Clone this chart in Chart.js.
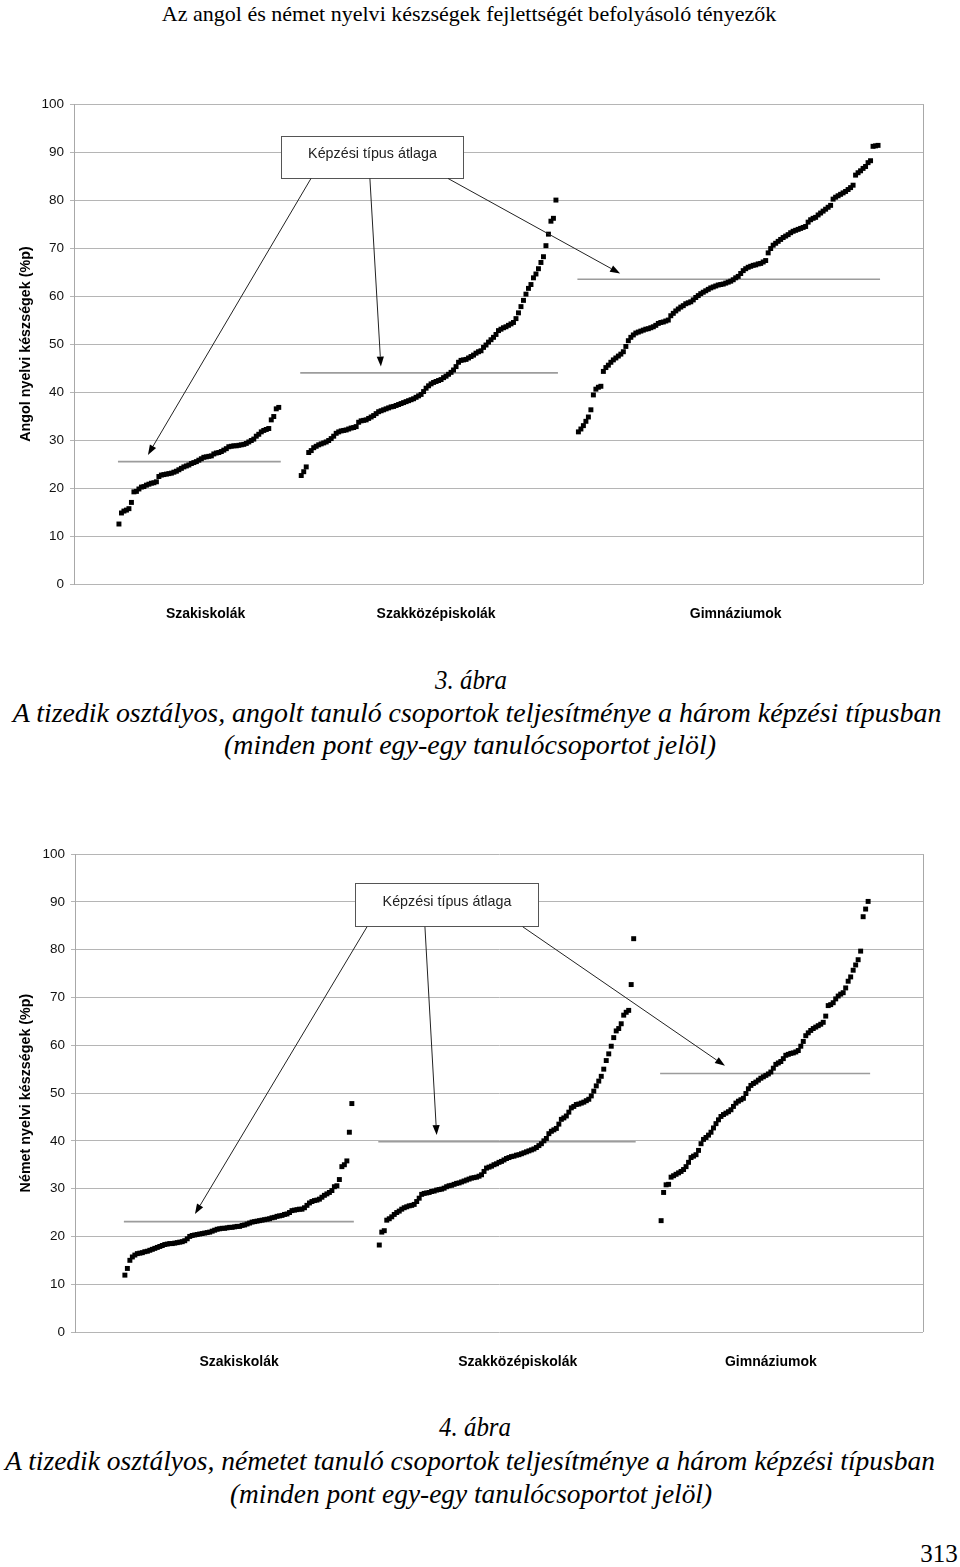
<!DOCTYPE html>
<html lang="hu">
<head>
<meta charset="utf-8">
<title>Angol és német nyelvi készségek</title>
<script src="https://cdn.jsdelivr.net/npm/chart.js@4.4.1/dist/chart.umd.min.js"></script>
<style>
  body { margin: 0; width: 960px; height: 1567px; background: #fff; position: relative; overflow: hidden; }
  .txt { position: absolute; white-space: nowrap; font-family: "Liberation Serif", "DejaVu Serif", serif; color: #000; line-height: 1; transform-origin: center center; }
  .cap { font-style: italic; font-size: 28px; }
  canvas { position: absolute; left: 0; }
</style>
</head>
<body>
<div id="cim" class="txt" style="font-size:22px">Az angol és német nyelvi készségek fejlettségét befolyásoló tényezők</div>

<canvas id="angolChart" width="960" height="560" style="top:90px"></canvas>
<div id="cap1a" class="txt cap">3. ábra</div>
<div id="cap1b" class="txt cap">A tizedik osztályos, angolt tanuló csoportok teljesítménye a három képzési típusban</div>
<div id="cap1c" class="txt cap">(minden pont egy-egy tanulócsoportot jelöl)</div>

<canvas id="nemetChart" width="960" height="560" style="top:840px"></canvas>
<div id="cap2a" class="txt cap">4. ábra</div>
<div id="cap2b" class="txt cap">A tizedik osztályos, németet tanuló csoportok teljesítménye a három képzési típusban</div>
<div id="cap2c" class="txt cap">(minden pont egy-egy tanulócsoportot jelöl)</div>

<div id="oldal" class="txt" style="font-size:25px">313</div>

<script>
// kategóriák és tengelyfeliratok
const kategoriak = ['Szakiskolák', 'Szakközépiskolák', 'Gimnáziumok'];
const yTicks = [0, 10, 20, 30, 40, 50, 60, 70, 80, 90, 100];

// 3. ábra - angol (csoportonként növekvő sorrendben)
const angolSzakiskola = [
  12.5, 14.8, 15.2, 15.4, 15.7, 17.0, 19.2, 19.3, 19.8, 20.2,
  20.3, 20.6, 20.8, 21.0, 21.1, 21.3, 22.4, 22.7, 22.8, 22.9,
  23.0, 23.1, 23.3, 23.5, 23.8, 24.1, 24.4, 24.6, 24.8, 25.1,
  25.3, 25.5, 25.8, 26.1, 26.4, 26.5, 26.6, 26.7, 27.1, 27.3,
  27.4, 27.6, 27.9, 28.2, 28.6, 28.7, 28.8, 28.8, 28.9, 29.0,
  29.1, 29.3, 29.6, 29.9, 30.2, 30.8, 31.2, 31.7, 32.0, 32.2,
  32.4, 34.2, 34.9, 36.5, 36.8
];
const angolSzakkozep = [
  22.6, 23.4, 24.4, 27.4, 27.8, 28.4, 28.7, 29.0, 29.2, 29.4,
  29.6, 29.9, 30.3, 30.8, 31.4, 31.7, 31.9, 32.0, 32.1, 32.3,
  32.5, 32.6, 32.8, 33.7, 34.0, 34.1, 34.2, 34.5, 34.8, 35.1,
  35.5, 35.9, 36.1, 36.3, 36.5, 36.7, 36.9, 37.0, 37.2, 37.4,
  37.6, 37.8, 38.0, 38.2, 38.4, 38.6, 38.9, 39.2, 39.5, 40.1,
  40.8, 41.3, 41.7, 42.0, 42.2, 42.4, 42.6, 43.0, 43.3, 43.7,
  44.1, 44.6, 45.3, 46.2, 46.6, 46.7, 46.8, 47.1, 47.4, 47.7,
  48.1, 48.4, 48.6, 49.3, 49.8, 50.4, 50.9, 51.4, 52.0, 52.8,
  53.1, 53.4, 53.6, 53.9, 54.2, 54.5, 55.3, 56.5, 57.8, 59.1,
  60.4, 61.6, 62.4, 63.8, 64.6, 65.7, 67.0, 68.2, 70.5, 72.9,
  75.6, 76.2, 80.0
];
const angolGimnazium = [
  31.7, 32.3, 33.0, 33.9, 34.8, 36.3, 39.4, 40.6, 41.0, 41.2,
  44.3, 45.1, 45.6, 46.2, 46.7, 47.1, 47.5, 47.9, 48.4, 49.5,
  50.7, 51.4, 51.9, 52.3, 52.5, 52.7, 52.9, 53.1, 53.2, 53.4,
  53.6, 53.9, 54.3, 54.5, 54.6, 54.8, 55.0, 55.9, 56.4, 56.9,
  57.3, 57.7, 58.0, 58.4, 58.6, 58.8, 59.2, 59.7, 60.1, 60.5,
  60.8, 61.1, 61.4, 61.7, 61.9, 62.1, 62.3, 62.4, 62.5, 62.7,
  62.9, 63.1, 63.4, 63.8, 64.1, 64.7, 65.3, 65.7, 66.0, 66.2,
  66.4, 66.5, 66.7, 66.8, 67.1, 67.4, 69.0, 69.9, 70.6, 71.0,
  71.4, 71.8, 72.2, 72.5, 72.8, 73.2, 73.5, 73.7, 73.9, 74.1,
  74.3, 74.5, 75.4, 75.9, 76.2, 76.4, 76.9, 77.3, 77.7, 78.1,
  78.5, 78.9, 80.2, 80.6, 80.9, 81.2, 81.5, 81.8, 82.2, 82.6,
  83.1, 85.2, 85.7, 86.1, 86.6, 87.0, 87.8, 88.2, 91.2, 91.3,
  91.4
];
const angolAtlag = [25.5, 44.0, 63.5];

// 4. ábra - német
const nemetSzakiskola = [
  11.9, 13.3, 15.0, 15.7, 16.1, 16.4, 16.5, 16.6, 16.8, 16.9,
  17.1, 17.3, 17.5, 17.7, 17.9, 18.1, 18.3, 18.4, 18.5, 18.5,
  18.6, 18.7, 18.8, 18.9, 19.1, 19.5, 20.0, 20.2, 20.3, 20.4,
  20.5, 20.6, 20.7, 20.8, 20.9, 21.1, 21.3, 21.5, 21.6, 21.7,
  21.7, 21.8, 21.9, 21.9, 22.0, 22.1, 22.1, 22.3, 22.4, 22.6,
  22.8, 23.0, 23.1, 23.2, 23.3, 23.4, 23.5, 23.6, 23.7, 23.9,
  24.0, 24.2, 24.3, 24.4, 24.6, 24.7, 25.0, 25.4, 25.5, 25.6,
  25.7, 25.7, 26.0, 26.5, 27.0, 27.3, 27.5, 27.6, 27.8, 28.2,
  28.6, 28.9, 29.2, 29.6, 30.4, 30.6, 31.9, 34.6, 35.0, 35.8,
  41.8, 47.8
];
const nemetSzakkozep = [
  18.2, 20.9, 21.2, 23.4, 23.7, 24.1, 24.6, 25.0, 25.3, 25.7,
  26.0, 26.2, 26.4, 26.5, 26.7, 27.3, 28.0, 28.8, 29.0, 29.1,
  29.2, 29.4, 29.5, 29.7, 29.8, 29.9, 30.1, 30.4, 30.6, 30.7,
  30.9, 31.1, 31.2, 31.4, 31.6, 31.8, 32.0, 32.2, 32.3, 32.4,
  32.6, 32.9, 33.6, 34.3, 34.5, 34.7, 35.0, 35.2, 35.5, 35.7,
  36.0, 36.3, 36.5, 36.7, 36.8, 37.0, 37.1, 37.3, 37.5, 37.7,
  37.9, 38.1, 38.3, 38.6, 39.0, 39.4, 40.0, 40.5, 41.5, 42.0,
  42.3, 42.6, 43.5, 44.5, 44.8, 45.2, 46.0, 46.9, 47.2, 47.6,
  47.7, 47.9, 48.1, 48.4, 48.7, 49.4, 50.4, 51.5, 52.5, 53.5,
  55.0, 56.8, 58.2, 59.8, 61.6, 63.0, 63.5, 64.5, 66.3, 66.9,
  67.3, 72.7, 82.3
];
const nemetGimnazium = [
  23.3, 29.2, 30.8, 30.9, 32.4, 32.7, 33.0, 33.3, 33.6, 34.0,
  34.6, 35.5, 36.5, 36.8, 37.1, 38.0, 39.4, 40.3, 40.7, 41.2,
  41.8, 42.7, 43.6, 44.4, 45.1, 45.5, 45.8, 46.1, 46.5, 47.2,
  47.9, 48.3, 48.6, 48.9, 49.9, 50.9, 51.6, 52.0, 52.3, 52.7,
  53.1, 53.4, 53.7, 54.0, 54.4, 55.2, 56.0, 56.3, 56.6, 57.2,
  57.9, 58.1, 58.3, 58.4, 58.6, 58.9, 59.8, 60.8, 62.0, 62.6,
  63.1, 63.5, 63.8, 64.1, 64.4, 64.8, 66.1, 68.3, 68.5, 68.9,
  69.7, 70.3, 70.7, 71.0, 72.0, 73.4, 74.3, 75.7, 76.8, 77.9,
  79.7, 86.9, 88.5, 90.1
];
const nemetAtlag = [23.1, 39.8, 54.1];

// elrendezés: a csoportok kezdő sorszáma és a kategóriafeliratok helye az x tengelyen
const angolKezdet = [18, 91, 202];
const nemetKezdet = [20, 122, 235];
const angolFeliratHely = [52.7, 145, 265];
const nemetFeliratHely = [65.8, 177.5, 279];

// magyarázó doboz és nyilak (adatkoordinátákban)
const angolMagyarazat = {
  box: [82.9, 93.4, 155.8, 84.6],
  arrows: [[94.9, 84.5, 29.6, 26.9], [118.5, 84.5, 122.9, 45.3], [149.8, 84.5, 218.7, 64.7]]
};
const nemetMagyarazat = {
  box: [112.3, 93.9, 185.6, 85.0],
  arrows: [[117.1, 84.8, 48.1, 24.7], [140.3, 84.8, 145.0, 41.2], [179.5, 84.8, 260.6, 55.7]]
};

const SANS = '"Liberation Sans", Arial, sans-serif';

const keretPlugin = {
  id: 'keret',
  beforeDatasetsDraw(chart) {
    const { ctx, chartArea: a } = chart;
    const xr = Math.round(a.right) + 0.5;
    ctx.save();
    ctx.strokeStyle = '#a8a8a8';
    ctx.lineWidth = 1;
    ctx.beginPath();
    ctx.moveTo(xr, a.top);
    ctx.lineTo(xr, a.bottom);
    ctx.stroke();
    ctx.restore();
  }
};

const magyarazatPlugin = {
  id: 'magyarazat',
  afterDatasetsDraw(chart, args, opts) {
    if (!opts || !opts.box) return;
    const { ctx, scales: { x, y } } = chart;
    const [bx1, by1, bx2, by2] = opts.box;
    const L = Math.round(x.getPixelForValue(bx1)) + 0.5;
    const R = Math.round(x.getPixelForValue(bx2)) + 0.5;
    const T = Math.round(y.getPixelForValue(by1)) + 0.5;
    const B = Math.round(y.getPixelForValue(by2)) + 0.5;
    ctx.save();
    ctx.fillStyle = '#fff';
    ctx.fillRect(L, T, R - L, B - T);
    ctx.strokeStyle = '#555';
    ctx.lineWidth = 1;
    ctx.strokeRect(L, T, R - L, B - T);
    ctx.fillStyle = '#222';
    ctx.font = '14.3px ' + SANS;
    ctx.textAlign = 'center';
    ctx.textBaseline = 'middle';
    ctx.fillText('Képzési típus átlaga', (L + R) / 2, (T + B) / 2 - 3);

    opts.arrows.forEach(([x1, y1, x2, y2]) => {
      const p1 = [x.getPixelForValue(x1), y.getPixelForValue(y1)];
      const p2 = [x.getPixelForValue(x2), y.getPixelForValue(y2)];
      const ang = Math.atan2(p2[1] - p1[1], p2[0] - p1[0]);
      const len = 10, half = 3.6;
      const bx = p2[0] - len * Math.cos(ang), by = p2[1] - len * Math.sin(ang);
      ctx.strokeStyle = '#222';
      ctx.lineWidth = 1;
      ctx.beginPath();
      ctx.moveTo(p1[0], p1[1]);
      ctx.lineTo(bx, by);
      ctx.stroke();
      ctx.fillStyle = '#000';
      ctx.beginPath();
      ctx.moveTo(p2[0], p2[1]);
      ctx.lineTo(bx + half * Math.sin(ang), by - half * Math.cos(ang));
      ctx.lineTo(bx - half * Math.sin(ang), by + half * Math.cos(ang));
      ctx.closePath();
      ctx.fill();
    });
    ctx.restore();
  }
};

function buildChart(canvasId, groups, starts, means, labelAt, yTitle, note, pad, axisWidth) {
  const datasets = [];
  groups.forEach((vals, g) => {
    datasets.push({
      label: kategoriak[g],
      data: vals.map((v, i) => ({ x: starts[g] + i, y: v })),
      pointStyle: 'rect',
      pointRadius: 3.5,
      backgroundColor: '#000',
      borderWidth: 0,
      order: 1
    });
    datasets.push({
      label: kategoriak[g] + ' átlag',
      data: [{ x: starts[g] - 0.4, y: means[g] }, { x: starts[g] + vals.length - 0.2, y: means[g] }],
      showLine: true,
      borderColor: '#9c9c9c',
      borderWidth: 1.6,
      pointRadius: 0,
      order: 2
    });
  });

  return new Chart(document.getElementById(canvasId), {
    type: 'scatter',
    data: { datasets },
    plugins: [keretPlugin, magyarazatPlugin],
    options: {
      responsive: false,
      animation: false,
      events: [],
      layout: { padding: pad },
      plugins: {
        legend: { display: false },
        tooltip: { enabled: false },
        magyarazat: note
      },
      scales: {
        x: {
          type: 'linear',
          min: 0,
          max: 340,
          grid: { display: false, drawTicks: false },
          border: { display: false },
          afterBuildTicks: (s) => { s.ticks = labelAt.map((v) => ({ value: v })); },
          afterFit: (s) => { s.height = 40; },
          ticks: {
            autoSkip: false,
            maxRotation: 0,
            padding: 22,
            color: '#000',
            font: { family: SANS, size: 14, weight: 'bold' },
            callback: (v, i) => kategoriak[i]
          }
        },
        y: {
          min: 0,
          max: 100,
          afterBuildTicks: (s) => { s.ticks = yTicks.map((v) => ({ value: v })); },
          afterFit: (s) => { s.width = axisWidth; },
          ticks: { padding: 6, color: '#111', font: { family: SANS, size: 13.5 } },
          grid: { color: '#b5b5b5', lineWidth: 1, tickLength: 4 },
          border: { color: '#a8a8a8' },
          title: {
            display: true,
            text: yTitle,
            color: '#000',
            font: { family: SANS, size: 14.3, weight: 'bold' },
            padding: { top: 17, bottom: 0 }
          }
        }
      }
    }
  });
}

buildChart('angolChart', [angolSzakiskola, angolSzakkozep, angolGimnazium], angolKezdet, angolAtlag,
  angolFeliratHely, 'Angol nyelvi készségek (%p)', angolMagyarazat,
  { top: 14, right: 37, bottom: 26, left: 0 }, 74);

buildChart('nemetChart', [nemetSzakiskola, nemetSzakkozep, nemetGimnazium], nemetKezdet, nemetAtlag,
  nemetFeliratHely, 'Német nyelvi készségek (%p)', nemetMagyarazat,
  { top: 13, right: 37, bottom: 28, left: 0 }, 75);

// szövegek elhelyezése: középpont és szélesség
function place(id, cx, cy, w) {
  const el = document.getElementById(id);
  el.style.left = cx + 'px';
  el.style.top = cy + 'px';
  const k = w / el.offsetWidth;
  el.style.transform = 'translate(-50%, -50%) scaleX(' + k.toFixed(3) + ')';
}
place('cim', 469, 14, 614);
place('cap1a', 471, 680, 72);
place('cap1b', 477, 713, 928);
place('cap1c', 470, 745, 492);
place('cap2a', 475, 1427, 72);
place('cap2b', 470, 1461, 930);
place('cap2c', 471, 1494, 482);
place('oldal', 939, 1553, 38);
</script>
</body>
</html>
